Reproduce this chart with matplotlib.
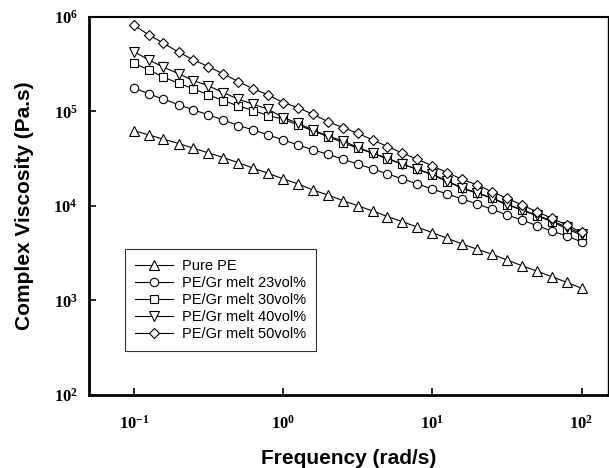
import numpy as np
import matplotlib
matplotlib.use("Agg")
import matplotlib.pyplot as plt
from matplotlib.ticker import FixedLocator, NullLocator

plt.rcParams['mathtext.fontset'] = 'custom'
plt.rcParams['mathtext.rm'] = 'Liberation Serif'
plt.rcParams['mathtext.bf'] = 'Liberation Serif:bold'

# frequency points, 10 per decade from 0.1 to 100 rad/s
freq = [0.1, 0.126, 0.158, 0.2, 0.251, 0.316, 0.398, 0.501, 0.631, 0.794,
        1.0, 1.26, 1.58, 2.0, 2.51, 3.16, 3.98, 5.01, 6.31, 7.94,
        10.0, 12.6, 15.8, 20.0, 25.1, 31.6, 39.8, 50.1, 63.1, 79.4, 100.0]

# log10 of complex viscosity
log_pure = [4.797, 4.751, 4.706, 4.660, 4.610, 4.561, 4.511, 4.458, 4.399, 4.346,
            4.286, 4.233, 4.169, 4.116, 4.056, 4.003, 3.947, 3.887, 3.834, 3.775,
            3.718, 3.658, 3.598, 3.542, 3.489, 3.429, 3.368, 3.312, 3.252, 3.193, 3.129]
log_23 = [5.250, 5.185, 5.129, 5.069, 5.016, 4.963, 4.910, 4.850, 4.804, 4.751,
          4.698, 4.646, 4.593, 4.547, 4.494, 4.444, 4.392, 4.339, 4.286, 4.233,
          4.177, 4.127, 4.074, 4.021, 3.965, 3.905, 3.852, 3.792, 3.735, 3.683, 3.620]
log_30 = [5.510, 5.439, 5.362, 5.298, 5.238, 5.175, 5.114, 5.058, 5.009, 4.956,
          4.917, 4.857, 4.794, 4.733, 4.670, 4.611, 4.558, 4.494, 4.441, 4.388,
          4.328, 4.257, 4.187, 4.134, 4.081, 4.011, 3.958, 3.895, 3.834, 3.760, 3.690]
log_40 = [5.633, 5.545, 5.468, 5.397, 5.326, 5.270, 5.199, 5.129, 5.076, 5.023,
          4.935, 4.875, 4.804, 4.741, 4.688, 4.621, 4.558, 4.505, 4.441, 4.388,
          4.335, 4.265, 4.190, 4.140, 4.085, 4.018, 3.962, 3.900, 3.845, 3.775, 3.705]
log_50 = [5.910, 5.810, 5.721, 5.626, 5.545, 5.474, 5.397, 5.316, 5.238, 5.175,
          5.093, 5.040, 4.970, 4.892, 4.829, 4.769, 4.698, 4.628, 4.558, 4.494,
          4.423, 4.352, 4.282, 4.222, 4.151, 4.081, 4.011, 3.940, 3.870, 3.800, 3.720]

labels = ['Pure PE', 'PE/Gr melt 23vol%', 'PE/Gr melt 30vol%',
          'PE/Gr melt 40vol%', 'PE/Gr melt 50vol%']
markers = ['^', 'o', 's', 'v', 'D']
sizes = [6.5, 6, 6, 6.5, 5.5]
series = [log_pure, log_23, log_30, log_40, log_50]

fig = plt.figure(figsize=(6.09, 4.68), dpi=100)
ax = fig.add_axes([0.146, 0.156, 0.852, 0.808])

for s, lab, m, ms in zip(series, labels, markers, sizes):
    ax.plot(freq, 10**np.array(s), color='k', lw=0.8, marker=m, ms=ms,
            mfc='white', mec='k', mew=0.8, label=lab)

ax.set_xscale('log')
ax.set_yscale('log')
ax.set_xlim(0.05, 150)
ax.set_ylim(1e2, 1e6)

xt = [0.1, 1, 10, 100]
yt = [1e2, 1e3, 1e4, 1e5, 1e6]
ax.xaxis.set_major_locator(FixedLocator(xt))
ax.yaxis.set_major_locator(FixedLocator(yt))
ax.xaxis.set_minor_locator(NullLocator())
ax.yaxis.set_minor_locator(NullLocator())
ax.set_xticklabels([r'$\mathbf{10^{-1}}$', r'$\mathbf{10^{0}}$',
                    r'$\mathbf{10^{1}}$', r'$\mathbf{10^{2}}$'], fontsize=12)
ax.set_yticklabels([r'$\mathbf{10^{2}}$', r'$\mathbf{10^{3}}$', r'$\mathbf{10^{4}}$',
                    r'$\mathbf{10^{5}}$', r'$\mathbf{10^{6}}$'], fontsize=12)
ax.tick_params(direction='in', length=5, width=1.2, pad=8)
ax.tick_params(axis='x', pad=14)

for side in ['left', 'bottom']:
    ax.spines[side].set_linewidth(2)
ax.spines['top'].set_linewidth(1.5)
ax.spines['right'].set_linewidth(1.0)

ax.set_xlabel('Frequency (rad/s)', fontsize=15, fontweight='bold',
              family='Liberation Sans', labelpad=12)
ax.set_ylabel('Complex Viscosity (Pa.s)', fontsize=15, fontweight='bold',
              family='Liberation Sans', labelpad=14)

leg = ax.legend(loc='upper left', bbox_to_anchor=(0.069, 0.386), borderaxespad=0,
                prop={'family': 'Liberation Sans', 'size': 10.5}, fancybox=False,
                edgecolor='k', handlelength=2.6, labelspacing=0.2,
                borderpad=0.7, handletextpad=0.6)
leg.get_frame().set_linewidth(0.8)

fig.savefig('out.png', dpi=100)
